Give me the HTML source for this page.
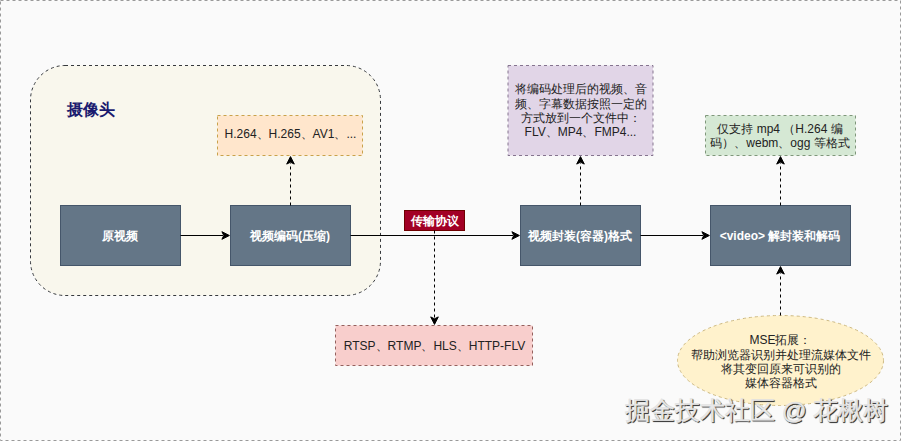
<!DOCTYPE html>
<html><head><meta charset="utf-8">
<style>
html,body{margin:0;padding:0;width:901px;height:441px;overflow:hidden;background:#ffffff;}
body{position:relative;font-family:"Liberation Sans",sans-serif;}
svg{position:absolute;left:0;top:0;}
.t{position:absolute;display:flex;align-items:center;justify-content:center;text-align:center;font-size:12px;line-height:14.4px;color:#222222;}
.w{color:#ffffff;font-weight:bold;}
</style></head><body>
<svg width="901" height="441" viewBox="0 0 901 441">
  <rect x="0.5" y="0.5" width="900" height="440" fill="#fafafa" stroke="#9a9a9a" stroke-dasharray="3 3"/>
  <rect x="30.5" y="65.5" width="350" height="230" rx="34.5" ry="34.5" fill="#f9f7ed" stroke="#36393d" stroke-dasharray="3 3"/>
  <!-- boxes -->
  <rect x="60.5" y="205.5" width="120" height="60" fill="#647687" stroke="#45566a"/>
  <rect x="230.5" y="205.5" width="120" height="60" fill="#647687" stroke="#45566a"/>
  <rect x="520.5" y="205.5" width="120" height="60" fill="#647687" stroke="#45566a"/>
  <rect x="710.5" y="205.5" width="140" height="60" fill="#647687" stroke="#45566a"/>
  <rect x="217.5" y="115.5" width="145" height="40" fill="#ffe6cc" stroke="#c9a24a" stroke-dasharray="3 3"/>
  <rect x="508" y="65.5" width="145" height="90" fill="#e1d5e7" stroke="#85748f" stroke-dasharray="3 3"/>
  <rect x="705.5" y="115.5" width="150" height="40" fill="#d5e8d4" stroke="#7f977a" stroke-dasharray="3 3"/>
  <rect x="335.5" y="325.5" width="197" height="40" fill="#f8cecc" stroke="#94605d" stroke-dasharray="3 3"/>
  <ellipse cx="780.5" cy="360.5" rx="103" ry="45" fill="#fff2cc" stroke="#cdb981" stroke-dasharray="3 3"/>
  <rect x="404.5" y="210.5" width="60" height="20" fill="#a20025" stroke="#6f0000"/>
  <!-- solid lines -->
  <g stroke="#000" fill="none">
    <path d="M180.5 235.5H223"/>
    <path d="M350.5 235.5H513"/>
    <path d="M640.5 235.5H703"/>
  </g>
  <g stroke="#000" fill="none" stroke-dasharray="3 3">
    <path d="M290.5 205.5V163"/>
    <path d="M434.5 230.5V318"/>
    <path d="M580.5 205.5V163"/>
    <path d="M780.5 205.5V163"/>
    <path d="M780.5 315.5V273"/>
  </g>
  <g fill="#000" stroke="#000">
    <path d="M229.4 235.5L221.90 231.70L223.80 235.5L221.90 239.30Z"/>
    <path d="M519.4 235.5L511.90 231.70L513.80 235.5L511.90 239.30Z"/>
    <path d="M709.4 235.5L701.90 231.70L703.80 235.5L701.90 239.30Z"/>
    <path d="M290.5 156.6L286.70 164.10L290.5 162.20L294.30 164.10Z"/>
    <path d="M580.5 156.6L576.70 164.10L580.5 162.20L584.30 164.10Z"/>
    <path d="M780.5 156.6L776.70 164.10L780.5 162.20L784.30 164.10Z"/>
    <path d="M780.5 266.6L776.70 274.10L780.5 272.20L784.30 274.10Z"/>
    <path d="M434.5 324.4L430.70 316.90L434.5 318.80L438.30 316.90Z"/>
  </g>
</svg>
<div class="t" style="left:61px;top:100px;width:120px;height:20px;justify-content:flex-start;padding-left:6px;font-size:16px;font-weight:bold;color:#1b1b6f">摄像头</div>
<div class="t w" style="left:60px;top:206px;width:120px;height:60px">原视频</div>
<div class="t w" style="left:230px;top:206px;width:120px;height:60px">视频编码(压缩)</div>
<div class="t w" style="left:520px;top:206px;width:120px;height:60px">视频封装(容器)格式</div>
<div class="t w" style="left:710px;top:206px;width:140px;height:60px">&lt;video&gt; 解封装和解码</div>
<div class="t w" style="left:404px;top:211px;width:61px;height:20px">传输协议</div>
<div class="t" style="left:218px;top:114px;width:145px;height:40px">H.264、H.265、AV1、...</div>
<div class="t" style="left:336px;top:326px;width:197px;height:40px">RTSP、RTMP、HLS、HTTP-FLV</div>
<div class="t" style="left:508px;top:66px;width:145px;height:90px"><div>将编码处理后的视频、音<br>频、字幕数据按照一定的<br>方式放到一个文件中：<br>FLV、MP4、FMP4...</div></div>
<div class="t" style="left:705px;top:116px;width:150px;height:40px"><div>仅支持 mp4 （H.264 编<br>码）、webm、ogg 等格式</div></div>
<div class="t" style="left:677px;top:317px;width:207px;height:90px"><div>MSE拓展：<br>帮助浏览器识别并处理流媒体文件<br>将其变回原来可识别的<br>媒体容器格式</div></div>
<div style="position:absolute;left:625px;top:396px;font-size:24.5px;line-height:30px;white-space:nowrap;color:#e8e8e8;-webkit-text-stroke:0.5px #e0e0e0;text-shadow:1px 1px 0 #3a3a3a,1px 1px 1px #222">掘金技术社区 @ 花楸树</div>
</body></html>
